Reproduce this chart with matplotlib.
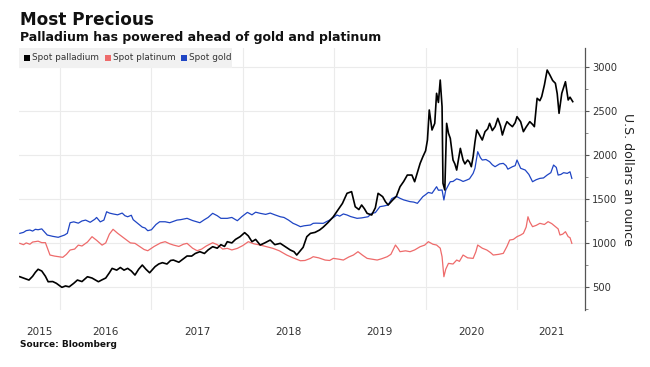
import matplotlib
matplotlib.use("Agg")
import matplotlib.pyplot as plt
from matplotlib.patches import Rectangle
from matplotlib.ticker import FixedLocator, MultipleLocator, NullFormatter

# ---- data (time in decimal years, USD per ounce) ----
gold_t = [2015.56, 2015.60, 2015.63, 2015.67, 2015.70, 2015.73, 2015.76, 2015.80, 2015.86, 2015.92,
          2015.98, 2016.05, 2016.08, 2016.11, 2016.15, 2016.20, 2016.24, 2016.28, 2016.33, 2016.38,
          2016.40, 2016.44, 2016.46, 2016.48, 2016.51, 2016.54, 2016.58, 2016.63, 2016.68, 2016.71,
          2016.74, 2016.78, 2016.80, 2016.85, 2016.90, 2016.93, 2016.96, 2017.00, 2017.05, 2017.09,
          2017.15, 2017.20, 2017.28, 2017.32, 2017.39, 2017.45, 2017.53, 2017.58, 2017.62, 2017.67,
          2017.72, 2017.76, 2017.83, 2017.88, 2017.94, 2017.99, 2018.05, 2018.10, 2018.14, 2018.19,
          2018.25, 2018.30, 2018.35, 2018.41, 2018.45, 2018.50, 2018.55, 2018.58, 2018.63, 2018.67,
          2018.74, 2018.77, 2018.80, 2018.88, 2018.92, 2018.95, 2019.03, 2019.06, 2019.10, 2019.14,
          2019.18, 2019.25, 2019.30, 2019.37, 2019.41, 2019.45, 2019.50, 2019.54, 2019.59, 2019.63,
          2019.68, 2019.72, 2019.76, 2019.83, 2019.87, 2019.91, 2019.97, 2020.00, 2020.03, 2020.07,
          2020.12, 2020.14, 2020.18, 2020.20, 2020.22, 2020.25, 2020.27, 2020.30, 2020.34, 2020.38,
          2020.41, 2020.45, 2020.48, 2020.52, 2020.54, 2020.57, 2020.60, 2020.62, 2020.66, 2020.70,
          2020.73, 2020.76, 2020.81, 2020.85, 2020.88, 2020.90, 2020.95, 2020.98, 2021.00, 2021.04,
          2021.09, 2021.13, 2021.17, 2021.21, 2021.25, 2021.29, 2021.33, 2021.37, 2021.40, 2021.43,
          2021.45, 2021.48, 2021.51, 2021.55, 2021.58, 2021.60]
gold_v = [1109, 1120, 1140, 1147, 1135, 1155, 1150, 1160, 1090, 1075,
          1064, 1090, 1110, 1230, 1240, 1225, 1250, 1260, 1235, 1269,
          1290, 1240, 1250, 1260, 1355, 1340, 1330, 1320, 1340, 1310,
          1298, 1315, 1265, 1223, 1180, 1170, 1139, 1150, 1210, 1241,
          1241, 1230, 1260, 1265, 1280, 1255, 1230, 1265, 1290, 1337,
          1310, 1280, 1280, 1290, 1253, 1300, 1348, 1320, 1350, 1337,
          1325, 1340, 1320, 1298, 1290, 1260, 1223, 1210, 1185, 1195,
          1204, 1223, 1225, 1223, 1245, 1260, 1318, 1305, 1330, 1318,
          1300, 1280, 1285, 1298, 1337, 1345, 1413, 1420, 1432, 1505,
          1530, 1508, 1490, 1470, 1465, 1451, 1527, 1550, 1575, 1565,
          1640, 1600, 1603, 1489, 1600, 1660, 1697, 1700, 1730, 1716,
          1700, 1716, 1730, 1792, 1850, 2039, 1970, 1944, 1950, 1925,
          1890, 1868, 1900, 1906, 1880, 1840, 1868, 1880, 1944, 1850,
          1830, 1780, 1697, 1720, 1735, 1740, 1773, 1800, 1887, 1860,
          1773, 1780, 1800, 1792, 1810, 1735]

plat_t = [2015.56, 2015.60, 2015.63, 2015.67, 2015.70, 2015.76, 2015.80, 2015.84, 2015.89, 2015.94,
          2016.03, 2016.07, 2016.11, 2016.16, 2016.20, 2016.24, 2016.30, 2016.35, 2016.40, 2016.46,
          2016.50, 2016.54, 2016.58, 2016.63, 2016.68, 2016.72, 2016.77, 2016.82, 2016.87, 2016.92,
          2016.96, 2017.03, 2017.10, 2017.15, 2017.20, 2017.24, 2017.30, 2017.35, 2017.39, 2017.45,
          2017.50, 2017.55, 2017.60, 2017.67, 2017.72, 2017.78, 2017.83, 2017.88, 2017.94, 2018.00,
          2018.06, 2018.12, 2018.19, 2018.25, 2018.33, 2018.40, 2018.48, 2018.55, 2018.60, 2018.63,
          2018.68, 2018.74, 2018.77, 2018.83, 2018.90, 2018.95, 2018.99, 2019.05, 2019.10, 2019.16,
          2019.21, 2019.26, 2019.31, 2019.36, 2019.41, 2019.47, 2019.52, 2019.58, 2019.62, 2019.67,
          2019.70, 2019.72, 2019.78, 2019.83, 2019.88, 2019.94, 2019.99, 2020.03, 2020.08, 2020.12,
          2020.16, 2020.18, 2020.20, 2020.22, 2020.25, 2020.30, 2020.34, 2020.37, 2020.41, 2020.46,
          2020.52, 2020.55, 2020.57, 2020.62, 2020.67, 2020.71, 2020.74, 2020.80, 2020.85, 2020.89,
          2020.92, 2020.96, 2021.00, 2021.04, 2021.07, 2021.10, 2021.12, 2021.14, 2021.17, 2021.21,
          2021.25, 2021.30, 2021.34, 2021.38, 2021.42, 2021.45, 2021.47, 2021.50, 2021.53, 2021.56,
          2021.58, 2021.60]
plat_v = [995, 980, 1000, 985, 1010, 1020, 1003, 1003, 862, 850,
          836, 870, 919, 930, 975, 965, 1010, 1071, 1030, 975,
          1000, 1100, 1155, 1110, 1071, 1040, 1000, 995, 960, 925,
          911, 960, 1000, 1014, 990, 976, 960, 985, 995, 940,
          911, 930, 965, 1002, 980, 930, 938, 920, 938, 970,
          1014, 990, 976, 960, 938, 910, 862, 830, 810, 797,
          800, 824, 843, 830, 805, 800, 824, 815, 805, 840,
          862, 900, 860, 824, 815, 805, 820, 843, 870, 976,
          935, 900, 910, 900, 920, 957, 975, 1014, 985, 976,
          940, 843, 615, 700, 767, 760, 805, 790, 862, 830,
          824, 900, 976, 940, 919, 890, 862, 870, 881, 960,
          1033, 1040, 1071, 1090, 1109, 1180, 1298, 1240, 1185, 1200,
          1223, 1210, 1242, 1220, 1185, 1160, 1090, 1100, 1128, 1071,
          1060, 995]

pall_t = [2015.56, 2015.60, 2015.63, 2015.66, 2015.70, 2015.73, 2015.76, 2015.80, 2015.84, 2015.87,
          2015.92, 2015.96, 2016.02, 2016.06, 2016.10, 2016.15, 2016.19, 2016.24, 2016.30, 2016.35,
          2016.42, 2016.46, 2016.50, 2016.54, 2016.57, 2016.62, 2016.66, 2016.70, 2016.74, 2016.78,
          2016.82, 2016.86, 2016.90, 2016.94, 2016.98, 2017.04, 2017.08, 2017.12, 2017.17, 2017.21,
          2017.24, 2017.30, 2017.35, 2017.39, 2017.44, 2017.48, 2017.53, 2017.58, 2017.62, 2017.67,
          2017.72, 2017.76, 2017.80, 2017.83, 2017.88, 2017.92, 2017.97, 2018.02, 2018.06, 2018.10,
          2018.14, 2018.19, 2018.24, 2018.30, 2018.35, 2018.41, 2018.46, 2018.52, 2018.56, 2018.59,
          2018.62, 2018.66, 2018.70, 2018.74, 2018.79, 2018.84, 2018.88, 2018.93, 2018.99, 2019.04,
          2019.09, 2019.14, 2019.19, 2019.23, 2019.27, 2019.30, 2019.33, 2019.36, 2019.41, 2019.45,
          2019.48, 2019.53, 2019.56, 2019.59, 2019.64, 2019.68, 2019.72, 2019.76, 2019.80, 2019.85,
          2019.88, 2019.91, 2019.94, 2019.97, 2020.00, 2020.02, 2020.04, 2020.07, 2020.10, 2020.12,
          2020.14, 2020.16, 2020.18, 2020.19, 2020.21, 2020.23, 2020.25, 2020.27, 2020.30, 2020.32,
          2020.34, 2020.36, 2020.38, 2020.41, 2020.43, 2020.46, 2020.48, 2020.50, 2020.52, 2020.54,
          2020.56, 2020.59, 2020.62, 2020.65, 2020.68, 2020.70, 2020.73, 2020.76, 2020.79, 2020.82,
          2020.84, 2020.87, 2020.89, 2020.92, 2020.95, 2020.98, 2021.00, 2021.04, 2021.07, 2021.10,
          2021.14, 2021.17, 2021.19, 2021.22, 2021.25, 2021.27, 2021.30, 2021.33, 2021.36, 2021.39,
          2021.42, 2021.44, 2021.46, 2021.49, 2021.53, 2021.56, 2021.58, 2021.61]
pall_v = [615, 600, 590, 577, 620, 665, 700, 680, 620, 558,
          560, 540, 494, 510, 500, 540, 577, 560, 615, 600,
          558, 580, 600, 660, 710, 690, 720, 690, 710, 680,
          634, 700, 748, 700, 660, 730, 760, 775, 760, 800,
          805, 780, 820, 851, 850, 880, 900, 880, 920, 957,
          940, 980, 960, 1014, 1000, 1040, 1071, 1117, 1080, 1014,
          1040, 976, 1000, 1033, 980, 995, 960, 919, 900, 862,
          900, 950, 1071, 1109, 1120, 1147, 1180, 1230, 1298, 1375,
          1450, 1565, 1584, 1412, 1380, 1432, 1390, 1337, 1318, 1400,
          1565, 1527, 1470, 1432, 1489, 1530, 1640, 1700, 1773, 1773,
          1697, 1800, 1906, 1982, 2050, 2172, 2514, 2286, 2362, 2704,
          2600, 2855, 2552, 1679, 1603, 2362, 2250, 2191, 1944, 1900,
          1830, 1950, 2077, 1944, 1900, 1944, 1920, 1868, 1982, 2150,
          2286, 2230, 2172, 2267, 2300, 2362, 2280, 2324, 2419, 2330,
          2229, 2330, 2381, 2350, 2324, 2370, 2438, 2380, 2267, 2320,
          2381, 2350, 2324, 2647, 2620, 2666, 2800, 2969, 2912, 2850,
          2818, 2700, 2476, 2704, 2836, 2628, 2660, 2609]

year_labels = ["2015", "2016", "2017", "2018", "2019", "2020", "2021"]
series_names = ["Spot palladium", "Spot platinum", "Spot gold"]
series_colors = ["#000000", "#ee6b6b", "#1f45c4"]

# ---- figure ----
W, H = 650, 367
fig = plt.figure(figsize=(W / 100, H / 100), dpi=100)
ax = fig.add_axes([19 / W, 1 - 310 / H, (585 - 19) / W, (310 - 48) / H])

xmin, xmax = 2015.551, 2021.744
ax.set_xlim(xmin, xmax)
ax.set_ylim(236, 3220)

ax.plot(plat_t, plat_v, color=series_colors[1], lw=0.9, zorder=3)
ax.plot(gold_t, gold_v, color=series_colors[2], lw=0.9, zorder=3)
ax.plot(pall_t, pall_v, color=series_colors[0], lw=1.2, zorder=4)

for s in ["top", "left", "bottom"]:
    ax.spines[s].set_visible(False)
ax.spines["right"].set_color("#555555")
ax.spines["right"].set_linewidth(0.9)

# y axis on right
ax.yaxis.tick_right()
ax.yaxis.set_label_position("right")
ax.set_yticks([500, 1000, 1500, 2000, 2500, 3000])
ax.yaxis.set_minor_locator(MultipleLocator(250))
ax.tick_params(axis="y", which="major", length=3, width=0.8, color="#555555",
               labelsize=7.2, labelcolor="#333333", pad=2)
ax.tick_params(axis="y", which="minor", length=2, width=0.6, color="#777777")
ax.set_ylabel("U.S. dollars an ounce", rotation=270, labelpad=12, fontsize=9, color="#222222")

# x axis: gridlines at year boundaries, labels centred in each year span
years = [int(y) for y in year_labels]
bounds = [y for y in years if xmin < y < xmax]
ax.xaxis.set_major_locator(FixedLocator(bounds))
ax.xaxis.set_major_formatter(NullFormatter())
mids = []
for y in years:
    a = max(y, xmin)
    b = min(y + 1, xmax)
    mids.append((a + b) / 2)
ax.xaxis.set_minor_locator(FixedLocator(mids))
ax.set_xticklabels(year_labels, minor=True)
ax.tick_params(axis="x", which="both", length=0, labelsize=7.5, labelcolor="#333333", pad=12)

ax.grid(True, which="major", color="#ebebeb", lw=0.8)
ax.set_axisbelow(True)

# titles
fig.text(20 / W, 1 - 25 / H, "Most Precious", fontsize=12.2, fontweight="bold", color="#111111")
fig.text(20 / W, 1 - 41 / H, "Palladium has powered ahead of gold and platinum",
         fontsize=9, fontweight="bold", color="#111111")
fig.text(20 / W, 1 - 347 / H, "Source: Bloomberg", fontsize=6.5, fontweight="bold", color="#111111")

# legend box
fig.patches.append(Rectangle((19 / W, 1 - 68 / H), (232 - 19) / W, 20 / H,
                             transform=fig.transFigure, facecolor="#f1f1f1", edgecolor="none", zorder=5))
xs = [24, 105, 181]
for x0, name, col in zip(xs, series_names, series_colors):
    fig.patches.append(Rectangle((x0 / W, 1 - 61 / H), 6 / W, 6 / H, transform=fig.transFigure,
                                 facecolor=col, edgecolor="none", zorder=6))
    fig.text((x0 + 8) / W, 1 - 58 / H, name, fontsize=6.4, color="#333333", va="center", zorder=7)

fig.savefig("out.png", dpi=100)
